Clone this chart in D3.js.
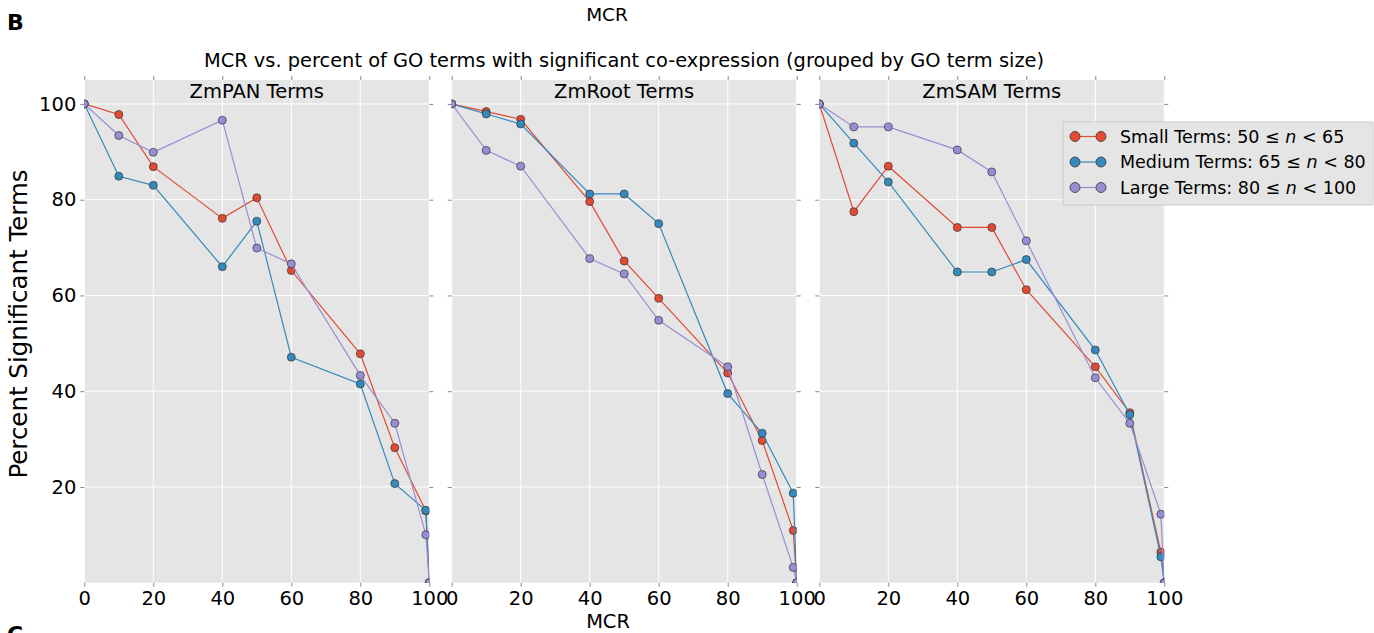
<!DOCTYPE html>
<html lang="en">
<head>
<meta charset="UTF-8">
<title>MCR vs. percent significant GO terms</title>
<script src="https://d3js.org/d3.v7.min.js"></script>
<style>
  body { margin: 0; background: #fff; font-family: "DejaVu Sans", sans-serif; }
  svg { display: block; }
  .tick text { fill: #000; }
</style>
</head>
<body>
<svg id="chart" width="1374" height="633"></svg>
<script>
// MCR cutoffs (x values shared by every line)
const mcr = [0, 10, 20, 40, 50, 60, 80, 90, 99, 100];

const panels = ["ZmPAN Terms", "ZmRoot Terms", "ZmSAM Terms"];

// percent significant terms, one array per panel and size group
const panSmall  = [100, 97.8, 86.9, 76.1, 80.4, 65.2, 47.8, 28.2, 15.0, 0];
const panMedium = [100, 84.9, 83.0, 66.0, 75.5, 47.1, 41.5, 20.7, 15.1, 0];
const panLarge  = [100, 93.4, 89.9, 96.6, 69.9, 66.6, 43.3, 33.3, 10.0, 0];

const rootSmall  = [100, 98.4, 96.8, 79.6, 67.2, 59.4, 43.8, 29.7, 10.9, 0];
const rootMedium = [100, 97.9, 95.8, 81.2, 81.2, 75.0, 39.5, 31.2, 18.7, 0];
const rootLarge  = [100, 90.3, 87.0, 67.7, 64.5, 54.8, 45.1, 22.6, 3.2, 0];

const samSmall  = [100, 77.5, 87.0, 74.2, 74.2, 61.2, 45.1, 35.5, 6.4, 0];
const samMedium = [100, 91.8, 83.7, 64.9, 64.9, 67.5, 48.6, 35.1, 5.4, 0];
const samLarge  = [100, 95.2, 95.2, 90.4, 85.8, 71.4, 42.8, 33.3, 14.3, 0];

const panelData = [
  [panSmall, panMedium, panLarge],
  [rootSmall, rootMedium, rootLarge],
  [samSmall, samMedium, samLarge]
];

const xTicks = [0, 20, 40, 60, 80, 100];
const yTicks = [20, 40, 60, 80, 100];
const colors = ["#E24A33", "#348ABD", "#988ED5"];

const svg = d3.select("#chart");
const panelLeft = [84.3, 451.7, 819.3];
const panelW = 345;
const plotTop = 80, plotBottom = 582.7;

const y = d3.scaleLinear().domain([0, 105]).range([plotBottom, plotTop]);

// clip path per panel
const defs = svg.append("defs");

panels.forEach((title, p) => {
  const x = d3.scaleLinear().domain([0, 100]).range([panelLeft[p], panelLeft[p] + panelW]);
  const g = svg.append("g");

  defs.append("clipPath").attr("id", "clip" + p)
    .append("rect")
    .attr("x", x(0)).attr("y", plotTop)
    .attr("width", panelW).attr("height", plotBottom - plotTop);

  g.append("rect")
    .attr("x", x(0)).attr("y", plotTop)
    .attr("width", panelW).attr("height", plotBottom - plotTop)
    .attr("fill", "#E5E5E5");

  // grid
  g.selectAll(".vg").data(xTicks).enter().append("line")
    .attr("x1", d => x(d)).attr("x2", d => x(d))
    .attr("y1", plotTop).attr("y2", plotBottom)
    .attr("stroke", "#fff").attr("stroke-width", 1);
  g.selectAll(".hg").data(yTicks).enter().append("line")
    .attr("x1", x(0)).attr("x2", x(100))
    .attr("y1", d => y(d)).attr("y2", d => y(d))
    .attr("stroke", "#fff").attr("stroke-width", 1);

  // axes
  const xb = g.append("g").attr("transform", `translate(0,${plotBottom})`)
    .call(d3.axisBottom(x).tickValues(xTicks).tickSize(4).tickPadding(4));
  const xt = g.append("g").attr("transform", `translate(0,${plotTop})`)
    .call(d3.axisTop(x).tickValues(xTicks).tickSize(4).tickFormat(""));
  const yl = g.append("g").attr("transform", `translate(${x(0)},0)`)
    .call(d3.axisLeft(y).tickValues(yTicks).tickSize(4).tickPadding(4)
      .tickFormat(p === 0 ? d3.format("d") : ""));
  const yr = g.append("g").attr("transform", `translate(${x(100)},0)`)
    .call(d3.axisRight(y).tickValues(yTicks).tickSize(4).tickFormat(""));
  [xb, xt, yl, yr].forEach(a => {
    a.select(".domain").remove();
    a.selectAll(".tick line").attr("stroke", "#888");
    a.selectAll(".tick text").attr("font-size", 19.5)
      .attr("font-family", "DejaVu Sans");
  });

  g.append("text")
    .attr("x", x(50)).attr("y", 98)
    .attr("text-anchor", "middle")
    .attr("font-size", 19.5)
    .text(title);

  const line = d3.line().x((d, i) => x(mcr[i])).y(d => y(d));
  const plot = g.append("g").attr("clip-path", `url(#clip${p})`);

  panelData[p].forEach((vals, s) => {
    plot.append("path")
      .datum(vals)
      .attr("fill", "none")
      .attr("stroke", colors[s])
      .attr("stroke-width", 1.2)
      .attr("d", line);
    plot.selectAll(".m" + s).data(vals).enter().append("circle")
      .attr("cx", (d, i) => x(mcr[i]))
      .attr("cy", d => y(d))
      .attr("r", 4)
      .attr("fill", colors[s])
      .attr("stroke", "#333")
      .attr("stroke-width", 0.7);
  });
});

// texts
svg.append("text").attr("x", 7).attr("y", 30)
  .attr("font-size", 22).attr("font-weight", "bold").text("B");
svg.append("text").attr("x", 7).attr("y", 642)
  .attr("font-size", 22).attr("font-weight", "bold").text("C");
svg.append("text").attr("x", 607).attr("y", 21)
  .attr("text-anchor", "middle").attr("font-size", 18.5).text("MCR");
svg.append("text").attr("x", 624).attr("y", 67)
  .attr("text-anchor", "middle").attr("font-size", 19.4)
  .text("MCR vs. percent of GO terms with significant co-expression (grouped by GO term size)");
svg.append("text").attr("x", 608).attr("y", 628)
  .attr("text-anchor", "middle").attr("font-size", 19.4).text("MCR");
svg.append("text")
  .attr("transform", "translate(27,324) rotate(-90)")
  .attr("text-anchor", "middle").attr("font-size", 24.5)
  .text("Percent Significant Terms");

// legend
const legendLabels = [
  ["Small Terms: 50 \u2264 ", "n", " < 65"],
  ["Medium Terms: 65 \u2264 ", "n", " < 80"],
  ["Large Terms: 80 \u2264 ", "n", " < 100"]
];
const lg = svg.append("g");
lg.append("rect")
  .attr("x", 1063).attr("y", 122).attr("width", 310).attr("height", 83)
  .attr("fill", "#E5E5E5").attr("stroke", "#ccc").attr("stroke-width", 1);
legendLabels.forEach((lab, i) => {
  const cy = 136.5 + i * 25.5;
  lg.append("line").attr("x1", 1075).attr("x2", 1101)
    .attr("y1", cy).attr("y2", cy)
    .attr("stroke", colors[i]).attr("stroke-width", 1.2);
  [1075, 1101].forEach(cx => lg.append("circle")
    .attr("cx", cx).attr("cy", cy).attr("r", 5)
    .attr("fill", colors[i]).attr("stroke", "#333").attr("stroke-width", 0.8));
  const t = lg.append("text").attr("x", 1120).attr("y", cy + 6)
    .attr("font-size", 17.5);
  t.append("tspan").text(lab[0]);
  t.append("tspan").attr("font-style", "italic").text(lab[1]);
  t.append("tspan").text(lab[2]);
});
</script>
</body>
</html>
